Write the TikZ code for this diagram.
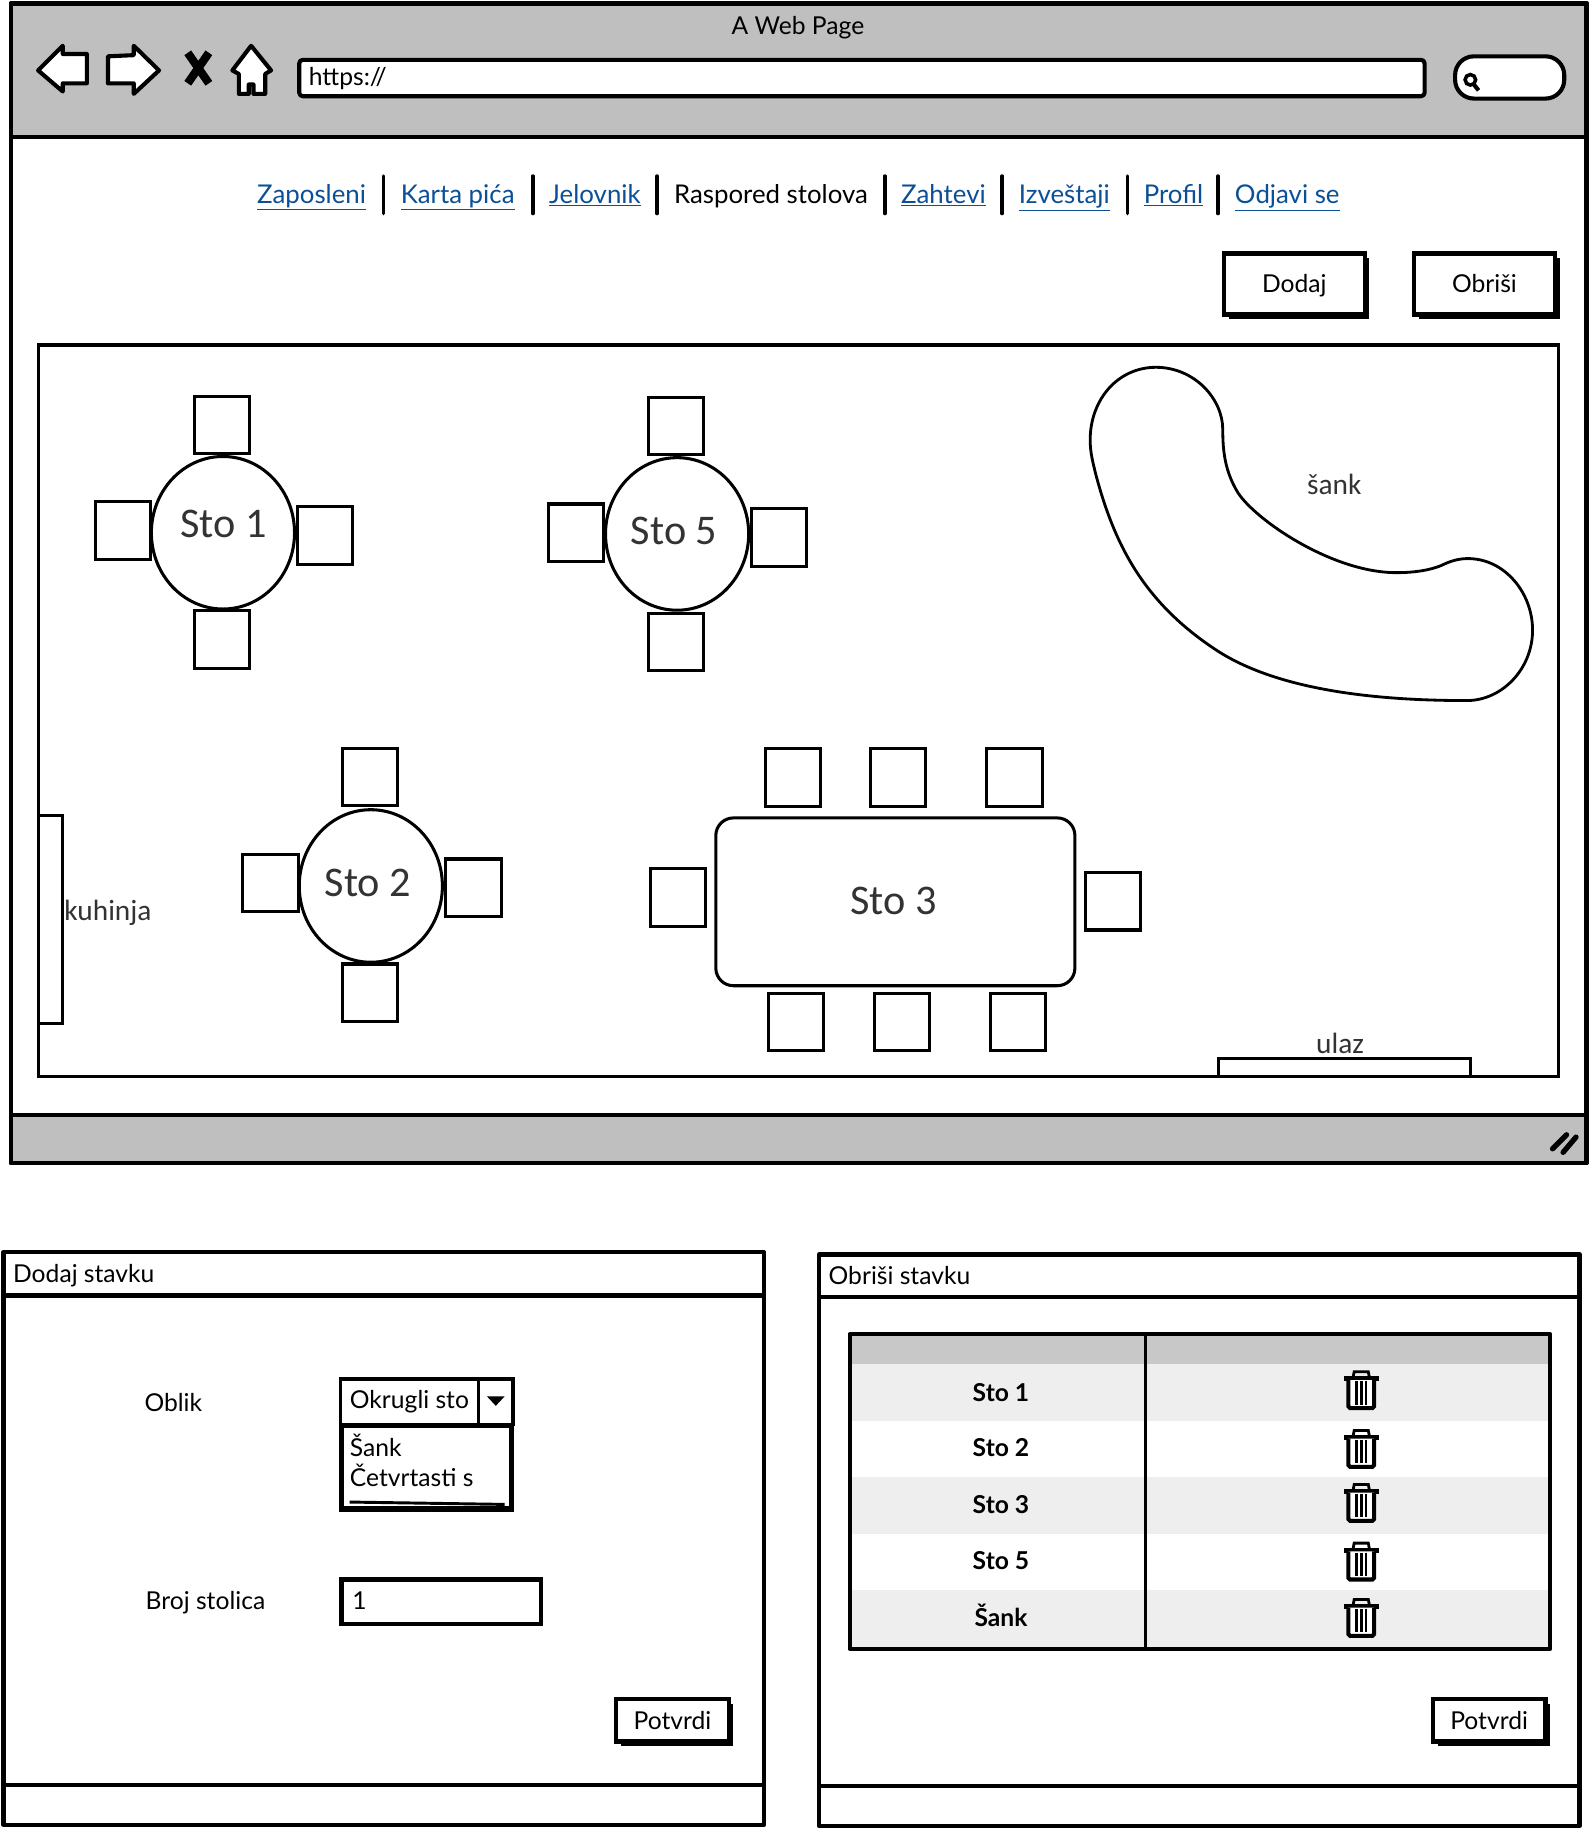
\documentclass[tikz,border=0pt]{standalone}
\usepackage{fontspec}
\setmainfont{Lato}
\newfontfamily\roomfont{Carlito}
\usetikzlibrary{positioning,shapes.geometric,shadows}
\definecolor{chrome}{HTML}{BFBFBF}
\definecolor{linkblue}{HTML}{0B4F96}
\definecolor{headgray}{HTML}{C8C8C8}
\definecolor{rowgray}{HTML}{EEEEEE}
\tikzset{trashcan/.pic={
    \draw[line width=2.4] (-7,-10) -- (-6,-15) -- (6,-15) -- (7,-10);
    \fill (-15,-11) rectangle (15,-7);
    \draw[line width=3.5,fill=white,rounded corners=1.5] (-11,-8) -- (-11,16) -- (11,16) -- (11,-8);
    \draw[line width=2.2] (-4.2,-7) -- (-4.2,13) (0,-7) -- (0,13) (4.2,-7) -- (4.2,13);
}}
\begin{document}
\begin{tikzpicture}[x=1pt,y=-1pt]
    \tikzstyle{every node}=[inner sep=0,text height=16,text depth=5,font=\fontsize{21}{25}\selectfont]
    \tikzstyle{frame}=[line width=3.5,line join=round,line cap=round]
    \tikzstyle{thin frame}=[line width=2.6]
    \tikzstyle{icon}=[draw,fill=white,line width=3.5,line join=round]
    \tikzstyle{link}=[text=linkblue,font=\fontsize{22}{26}\selectfont]
    \tikzstyle{menu sep}=[line width=3,line cap=round]
    \tikzstyle{button}=[draw,fill=white,line width=3.5,text depth=1,drop shadow={shadow xshift=4pt,shadow yshift=-4pt,opacity=1,fill=black}]
    \tikzstyle{chair}=[draw,fill=white,line width=2.6,minimum width=47,minimum height=49,text height=0,text depth=0]
    \tikzstyle{round table}=[draw,fill=white,ellipse,line width=2.6,minimum width=122,minimum height=130,text height=0,text depth=0]
    \tikzstyle{room label}=[font=\roomfont\fontsize{25}{30}\selectfont,text=black!80,text height=17,text depth=5]
    \tikzstyle{table label}=[font=\roomfont\fontsize{36}{42}\selectfont,text=black!80,text height=24,text depth=0]
    \tikzstyle{cell}=[font=\bfseries\fontsize{21}{25}\selectfont]

    \useasboundingbox (0,0) rectangle (1356,1568);

    % browser
    \draw[frame,fill=white] (9,3) rectangle (1352,991);
    \draw[frame,fill=chrome] (9,3) rectangle (1352,117);
    \draw[frame,fill=chrome] (9,950) rectangle (1352,991);
    \node (title) at (680,24) {A Web Page};
    \draw[icon] (32.5,60) -- (53.5,39) -- (53.5,46) -- (74,46) -- (74,71) -- (53.5,71) -- (53.5,78) -- cycle;
    \draw[icon] (135.5,60) -- (114,39) -- (114,47) -- (92,48) -- (92,71) -- (114,71) -- (114,80) -- cycle;
    \draw[line width=7] (160,45) -- (178,71) (178,45) -- (160,71);
    \draw[icon] (214,39) -- (198,60) -- (203.5,63) -- (203.5,80) -- (212,80) -- (212,72) -- (216,72) -- (216,80) -- (226,80) -- (226,63) -- (231,60) -- cycle;
    \draw[icon,rounded corners=3] (255,51) rectangle (1214,82);
    \node[anchor=west] (url) at (263,67) {https://};
    \draw[icon,rounded corners=16] (1240,48) rectangle (1333,84);
    \draw[line width=3] (1253,68) circle (4.5);
    \draw[line width=3.5] (1256,72) -- (1260,77);

    % menu
    \node[link] (zaposleni) at (265.5,168) {\underline{Zaposleni}};
    \node[link] (karta) at (390,168) {\underline{Karta pića}};
    \node[link] (jelovnik) at (507,168) {\underline{Jelovnik}};
    \node[font=\fontsize{22}{26}\selectfont] (raspored) at (657,168) {Raspored stolova};
    \node[link] (zahtevi) at (804,168) {\underline{Zahtevi}};
    \node[link] (izvestaji) at (907,168) {\underline{Izveštaji}};
    \node[link] (profil) at (1000,168) {\underline{Profil}};
    \node[link] (odjava) at (1097,168) {\underline{Odjavi se}};
    \draw[menu sep] (327,150) -- (327,182);
    \draw[menu sep] (454,150) -- (454,182);
    \draw[menu sep] (560,150) -- (560,182);
    \draw[menu sep] (754,150) -- (754,182);
    \draw[menu sep] (854,150) -- (854,182);
    \draw[menu sep] (961,150) -- (961,182);
    \draw[menu sep] (1038,150) -- (1038,182);

    \node[button,minimum width=120,minimum height=52] (dodaj) at (1103,242) {Dodaj};
    \node[button,minimum width=120,minimum height=52] (obrisi) at (1265,242) {Obriši};

    % room
    \draw[thin frame] (33,294) rectangle (1328,917);
    \draw[thin frame] (33,695) rectangle (53,872);
    \draw[thin frame] (1038,917) -- (1038,902) -- (1253,902) -- (1253,917);
    \node[room label] (kuhinja) at (92,778) {kuhinja};
    \node[room label] (ulaz) at (1142,892) {ulaz};
    \node[room label] (sank) at (1137,415) {šank};
    \draw[line width=2.4] (985,313) .. controls (1018,313) and (1042,340) .. (1042,366)
        .. controls (1042,385) and (1044,402) .. (1055,420)
        .. controls (1070,443) and (1135,488) .. (1190,488)
        .. controls (1205,488) and (1218,486) .. (1228,482)
        .. controls (1236,478) and (1243,476) .. (1251,476)
        .. controls (1282,476) and (1306,505) .. (1306,537)
        .. controls (1306,570) and (1280,597) .. (1250,597)
        .. controls (1180,597) and (1090,590) .. (1035,553)
        .. controls (975,513) and (950,465) .. (934,405)
        .. controls (931,393) and (929,385) .. (929,375)
        .. controls (929,340) and (953,313) .. (985,313) -- cycle;

    % sto 1
    \node[chair] (c1t) at (189.5,362) {};
    \node[chair] (c1b) at (189.5,545) {};
    \node[chair] (c1l) at (104.5,452) {};
    \node[chair] (c1r) at (277,456.5) {};
    \node[round table] (s1) at (190,454) {};
    \node[table label] (s1t) at (190.5,446) {Sto 1};

    % sto 5
    \node[chair] (c5t) at (576,363) {};
    \node[chair] (c5b) at (576,547) {};
    \node[chair] (c5l) at (491,454) {};
    \node[chair] (c5r) at (663.5,458) {};
    \node[round table] (s5) at (577,455) {};
    \node[table label] (s5t) at (574.5,452) {Sto 5};

    % sto 2
    \node[chair] (c2t) at (315.5,662) {};
    \node[chair] (c2b) at (315.5,846) {};
    \node[chair] (c2l) at (230.5,752.5) {};
    \node[chair] (c2r) at (403.5,756.5) {};
    \node[round table] (s2) at (316,755) {};
    \node[table label] (s2t) at (313.5,752) {Sto 2};

    % sto 3
    \node[chair] (c3ta) at (675.5,662.5) {};
    \node[chair] (c3tb) at (765.5,662.5) {};
    \node[chair] (c3tc) at (864.5,662.5) {};
    \node[chair] (c3ba) at (678.5,871) {};
    \node[chair] (c3bb) at (768.5,871) {};
    \node[chair] (c3bc) at (867.5,871) {};
    \node[chair] (c3l) at (577.5,765) {};
    \node[chair] (c3r) at (948.5,768) {};
    \node[draw,fill=white,line width=2.6,rounded corners=15,minimum width=306,minimum height=143,text height=0,text depth=0] (s3) at (763,768.5) {};
    \node[table label] (s3t) at (761.5,767) {Sto 3};

    \draw[line width=4.5,line cap=round] (1323,979) -- (1335,967) (1332,982) -- (1343,969);

    % dodaj stavku
    \draw[frame,fill=white] (3,1067) rectangle (651,1555);
    \draw[frame] (3,1104) -- (651,1104);
    \draw[frame] (3,1521) -- (651,1521);
    \node[anchor=west] (dodajt) at (11,1087.5) {Dodaj stavku};
    \node[anchor=west] (oblik) at (123,1197.5) {Oblik};
    \draw[line width=3,fill=white] (290,1175) rectangle (437,1214);
    \draw[line width=2.5] (408,1175) -- (408,1214);
    \fill (415,1190) -- (430,1190) -- (422.5,1198) -- cycle;
    \node[anchor=west] (okrugli) at (298,1195) {Okrugli sto};
    \draw[line width=4.5,fill=white] (291,1215) rectangle (436,1286);
    \node[anchor=west] (sanka) at (298,1235.5) {Šank};
    \node[anchor=west] (cetvrt) at (298,1261) {Četvrtasti s};
    \draw[line width=2.5] (298,1280) -- (430,1282);
    \node[anchor=west] (broj) at (124,1366) {Broj stolica};
    \draw[line width=3.5,fill=white] (291,1346) rectangle (461,1384);
    \node[anchor=west] (jedan) at (300,1366) {1};
    \node[button,minimum width=96,minimum height=36] (potvrda) at (573,1466) {Potvrdi};

    % obrisi stavku
    \draw[frame,fill=white] (698,1069) rectangle (1346,1556);
    \draw[frame] (698,1105) -- (1346,1105);
    \draw[frame] (698,1522) -- (1346,1522);
    \node[anchor=west] (obrisit) at (706,1089.5) {Obriši stavku};
    \fill[headgray] (724,1137) rectangle (1321,1162);
    \fill[rowgray] (724,1162) rectangle (1321,1211);
    \fill[rowgray] (724,1259) rectangle (1321,1307);
    \fill[rowgray] (724,1355) rectangle (1321,1405);
    \draw[frame] (724,1137) rectangle (1321,1405);
    \draw[line width=3] (976,1137) -- (976,1405);
    \node[cell] (r1) at (853,1188.5) {Sto 1};
    \node[cell] (r2) at (853,1235.5) {Sto 2};
    \node[cell] (r3) at (853,1284) {Sto 3};
    \node[cell] (r4) at (853,1332) {Sto 5};
    \node[cell] (r5) at (853,1380.5) {Šank};
    \pic at (1160,1184) {trashcan};
    \pic at (1160,1234) {trashcan};
    \pic at (1160,1280) {trashcan};
    \pic at (1160,1330) {trashcan};
    \pic at (1160,1378) {trashcan};
    \node[button,minimum width=96,minimum height=36] (potvrdb) at (1269,1466) {Potvrdi};
\end{tikzpicture}
\end{document}
